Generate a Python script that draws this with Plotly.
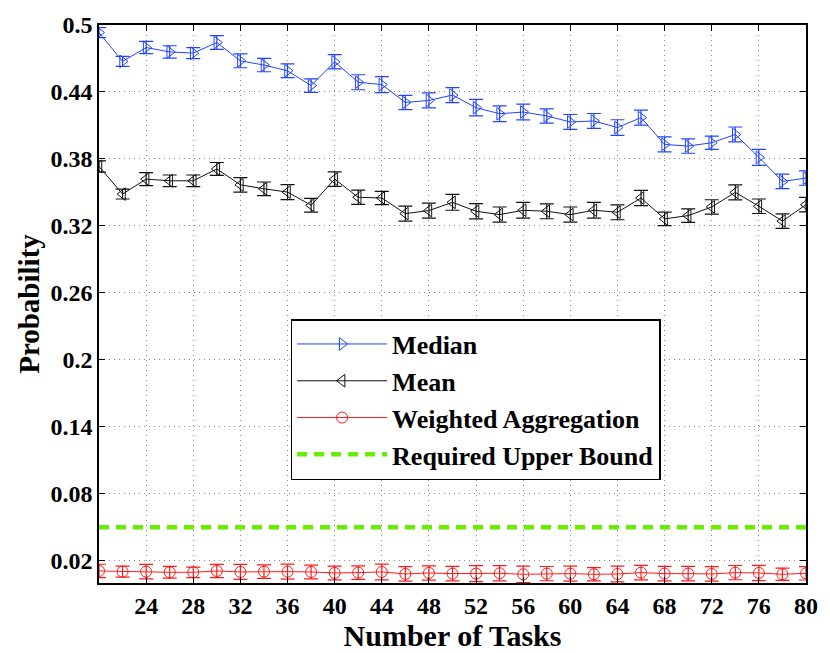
import plotly.graph_objects as go

tasks = list(range(20, 82, 2))

median = [0.4932, 0.4674, 0.4798, 0.4759, 0.4748, 0.4843, 0.4679, 0.4641, 0.4590, 0.4457,
          0.4670, 0.4487, 0.4466, 0.4306, 0.4324, 0.4372, 0.4259, 0.4205, 0.4220, 0.4185,
          0.4131, 0.4140, 0.4081, 0.4170, 0.3930, 0.3915, 0.3945, 0.4019, 0.3814, 0.3598, 0.3628]
median_err = [0.0045, 0.0044, 0.0055, 0.0055, 0.0050, 0.0062, 0.0062, 0.0060, 0.0062, 0.0060,
              0.0064, 0.0067, 0.0072, 0.0064, 0.0067, 0.0067, 0.0074, 0.0070, 0.0071, 0.0064,
              0.0067, 0.0067, 0.0070, 0.0068, 0.0067, 0.0064, 0.0060, 0.0067, 0.0071, 0.0065, 0.0064]

mean = [0.3732, 0.3485, 0.3619, 0.3604, 0.3604, 0.3710, 0.3568, 0.3532, 0.3503, 0.3385,
        0.3619, 0.3456, 0.3450, 0.3310, 0.3337, 0.3411, 0.3331, 0.3301, 0.3340, 0.3331,
        0.3301, 0.3340, 0.3322, 0.3450, 0.3263, 0.3292, 0.3370, 0.3500, 0.3376, 0.3243, 0.3390]
mean_err = [0.0050, 0.0044, 0.0058, 0.0052, 0.0052, 0.0058, 0.0065, 0.0061, 0.0067, 0.0062,
            0.0065, 0.0064, 0.0059, 0.0067, 0.0067, 0.0071, 0.0068, 0.0068, 0.0070, 0.0067,
            0.0068, 0.0070, 0.0067, 0.0068, 0.0060, 0.0060, 0.0064, 0.0067, 0.0065, 0.0065, 0.0065]

weighted = [0.0108, 0.0102, 0.0102, 0.0096, 0.0096, 0.0108, 0.0099, 0.0102, 0.0102, 0.0099,
            0.0090, 0.0093, 0.0099, 0.0081, 0.0090, 0.0084, 0.0084, 0.0087, 0.0078, 0.0084,
            0.0084, 0.0078, 0.0081, 0.0093, 0.0084, 0.0084, 0.0081, 0.0093, 0.0090, 0.0078, 0.0087]
weighted_err = [0.0060, 0.0050, 0.0065, 0.0053, 0.0047, 0.0059, 0.0067, 0.0060, 0.0067, 0.0062,
                0.0062, 0.0060, 0.0071, 0.0065, 0.0064, 0.0065, 0.0071, 0.0068, 0.0074, 0.0064,
                0.0068, 0.0059, 0.0071, 0.0065, 0.0065, 0.0065, 0.0065, 0.0064, 0.0068, 0.0055, 0.0060]

upper_bound = 0.05

x_ticks = list(range(24, 84, 4))
y_ticks = [0.02, 0.08, 0.14, 0.2, 0.26, 0.32, 0.38, 0.44, 0.5]
y_labels = ["0.02", "0.08", "0.14", "0.2", "0.26", "0.32", "0.38", "0.44", "0.5"]

font = "Liberation Serif, Times New Roman, Times, serif"

fig = go.Figure()

def add_series(y, err, name, color, symbol):
    fig.add_trace(go.Scatter(
        x=tasks, y=y, name=name, mode="lines+markers",
        line=dict(color=color, width=1),
        marker=dict(symbol=symbol, size=11, color=color, line=dict(color=color, width=1)),
        error_y=dict(type="data", array=err, visible=True, color=color, thickness=1.2, width=7),
    ))

add_series(median, median_err, "Median", "#2244ff", "triangle-right-open")
add_series(mean, mean_err, "Mean", "#111111", "triangle-left-open")
add_series(weighted, weighted_err, "Weighted Aggregation", "#ff1a1a", "circle-open")

fig.add_trace(go.Scatter(
    x=[tasks[0], tasks[-1]], y=[upper_bound, upper_bound],
    name="Required Upper Bound", mode="lines",
    line=dict(color="#66ee00", width=4.5, dash="10px,7px"),
))

fig.update_layout(
    width=830, height=653,
    margin=dict(l=99, r=18, t=21, b=70),
    paper_bgcolor="white", plot_bgcolor="white",
    font=dict(family=font, size=22, color="black"),
    showlegend=True,
    legend=dict(
        x=0.271, y=0.473, xanchor="left", yanchor="top",
        bgcolor="white", bordercolor="black", borderwidth=1.5,
        font=dict(family=font, size=26, color="black", weight="bold"),
        itemwidth=90, tracegroupgap=0,
    ),
)

axis_style = dict(
    showline=True, linecolor="black", linewidth=1.5, mirror="ticks",
    ticks="inside", ticklen=6, tickcolor="black",
    showgrid=True, gridcolor="#888888", griddash="1px,4px", gridwidth=1,
    zeroline=False,
)

fig.update_xaxes(
    range=[20, 80], tickvals=x_ticks,
    tickfont=dict(family=font, size=24, weight="bold"),
    title=dict(text="<b>Number of Tasks</b>", font=dict(family=font, size=30), standoff=0),
    **axis_style,
)
fig.update_yaxes(
    range=[0, 0.5], tickvals=y_ticks, ticktext=y_labels,
    tickfont=dict(family=font, size=24, weight="bold"),
    title=dict(text="<b>Probability</b>", font=dict(family=font, size=29), standoff=2),
    **axis_style,
)

fig.write_html("out.html", config={"displayModeBar": False},
               post_script="document.body.style.margin='0';")
